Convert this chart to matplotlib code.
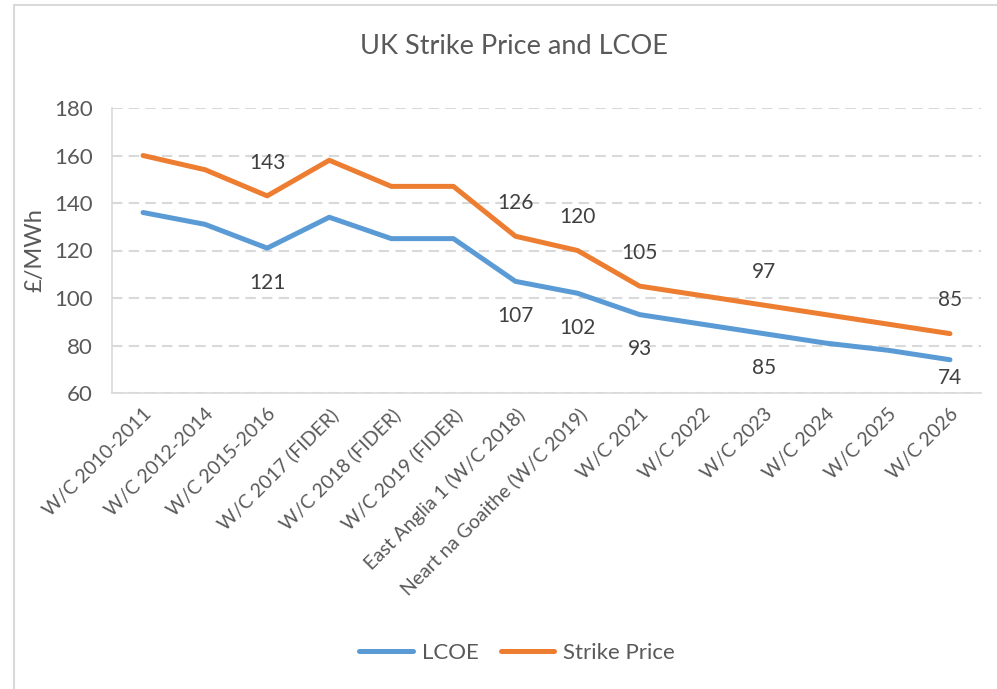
import matplotlib.pyplot as plt
from matplotlib.patches import Rectangle

# Chart data
categories = ["W/C 2010-2011", "W/C 2012-2014", "W/C 2015-2016", "W/C 2017 (FIDER)",
              "W/C 2018 (FIDER)", "W/C 2019 (FIDER)", "East Anglia 1 (W/C 2018)",
              "Neart na Goaithe (W/C 2019)", "W/C 2021", "W/C 2022", "W/C 2023",
              "W/C 2024", "W/C 2025", "W/C 2026"]
lcoe = [136, 131, 121, 134, 125, 125, 107, 102, 93, 89, 85, 81, 78, 74]
strike = [160, 154, 143, 158, 147, 147, 126, 120, 105, 101, 97, 93, 89, 85]
labelled = [2, 6, 7, 8, 10, 13]  # points that carry a data label
yticks = [60, 80, 100, 120, 140, 160, 180]

blue = "#5B9BD5"
orange = "#ED7D31"
text_col = "#595959"
grid_col = "#D9D9D9"

plt.rcParams['font.family'] = ['Lato', 'DejaVu Sans']

fig = plt.figure(figsize=(9.97, 6.89), dpi=100)
ax = fig.add_axes([112 / 997, 1 - 393 / 689, (981 - 112) / 997, (393 - 108) / 689])

x = list(range(len(categories)))
ax.plot(x, lcoe, color=blue, lw=3.6, solid_joinstyle='round', solid_capstyle='round',
        label="LCOE", zorder=3)
ax.plot(x, strike, color=orange, lw=3.6, solid_joinstyle='round', solid_capstyle='round',
        label="Strike Price", zorder=3)

for i in labelled:
    ax.annotate(str(strike[i]), (x[i], strike[i]), xytext=(0, 24), textcoords='offset points',
                ha='center', va='center', fontsize=15, color='#404040')
    # last label is pushed up so it stays clear of the axis
    dy = -13 if i == len(categories) - 1 else -25
    ax.annotate(str(lcoe[i]), (x[i], lcoe[i]), xytext=(0, dy), textcoords='offset points',
                ha='center', va='center', fontsize=15, color='#404040')

ax.set_xlim(-0.5, len(categories) - 0.5)
ax.set_ylim(60, 180)
ax.set_yticks(yticks)
ax.set_xticks(x)
ax.set_xticklabels(categories, rotation=45, ha='right', rotation_mode='anchor',
                   fontsize=14, color=text_col)
ax.tick_params(axis='y', length=0, pad=14, labelsize=16, labelcolor=text_col)
ax.tick_params(axis='x', length=0, pad=9)

ax.grid(axis='y', color=grid_col, lw=1.5, ls=(0, (5, 3)))
ax.set_axisbelow(True)
for side in ['top', 'right']:
    ax.spines[side].set_visible(False)
ax.spines['left'].set_color(grid_col)
ax.spines['bottom'].set_color(grid_col)
ax.spines['left'].set_linewidth(1.2)
ax.spines['bottom'].set_linewidth(1.2)

ax.set_ylabel("£/MWh", fontsize=17, color=text_col, labelpad=6)
fig.text(514 / 997, 1 - 47 / 689, "UK Strike Price and LCOE", ha='center', va='center',
         fontsize=19.5, color=text_col)

fig.legend(loc='center', bbox_to_anchor=(517 / 997, 1 - 653 / 689), ncol=2, frameon=False,
           fontsize=16, labelcolor=text_col, handlelength=2.4, handletextpad=0.4,
           columnspacing=1.0)

# chart area border
fig.patches.append(Rectangle((14 / 997, -0.05), 1.1, 1 - 5 / 689 + 0.05,
                             transform=fig.transFigure, fill=False,
                             edgecolor=grid_col, lw=1.5))

fig.savefig("out.png", dpi=100)
